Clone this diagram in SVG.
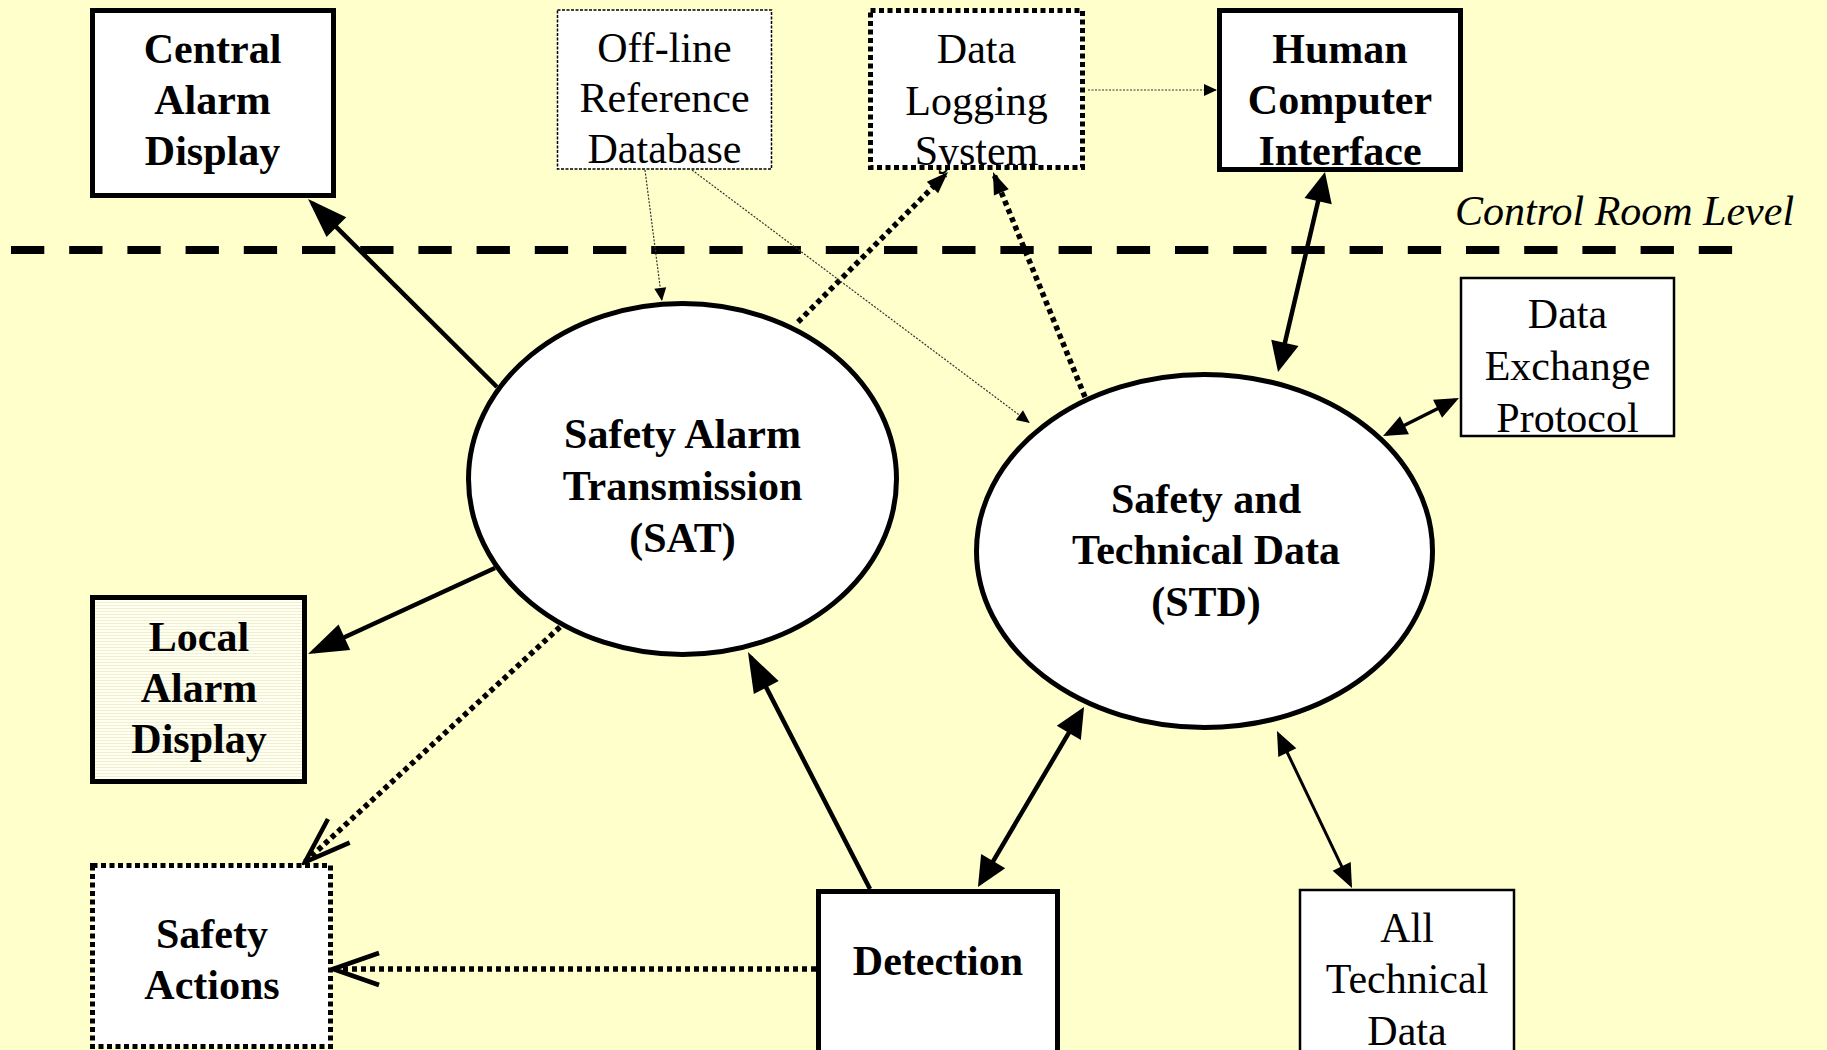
<svg xmlns="http://www.w3.org/2000/svg" width="1827" height="1050" viewBox="0 0 1827 1050">
<defs>
<style>
.bg{fill:#ffffcc}
.box{fill:#ffffff;stroke:#000;stroke-width:5}
.thin{fill:#ffffff;stroke:#000;stroke-width:2.5}
.dotbox{fill:#ffffff;stroke:#000;stroke-width:5;stroke-dasharray:5 3.5}
.finebox{fill:#ffffff;stroke:#000;stroke-width:1.5;stroke-dasharray:3 1.5}
.ell{fill:#ffffff;stroke:#000;stroke-width:5}
text{font-family:"Liberation Serif","Times New Roman",serif;font-size:42px;fill:#000;text-anchor:middle}
.b{font-weight:bold}
.it{font-style:italic;text-anchor:start}
.solid{stroke:#000;stroke-width:4.5;fill:none}
.mid{stroke:#000;stroke-width:3.5;fill:none}
.slim{stroke:#000;stroke-width:3;fill:none}
.dots{stroke:#000;stroke-width:5.5;stroke-dasharray:5 4;fill:none}
.fine{stroke:#333;stroke-width:1.2;stroke-dasharray:2 1.5;fill:none}
</style>
<marker id="big" viewBox="-36 -16 44 32" markerWidth="44" markerHeight="32" refX="0" refY="0" orient="auto-start-reverse" markerUnits="userSpaceOnUse">
<path d="M6,0 L-34,-14 L-34,14 Z" fill="#000"/>
</marker>
<marker id="med" viewBox="-30 -15 38 30" markerWidth="38" markerHeight="30" refX="0" refY="0" orient="auto-start-reverse" markerUnits="userSpaceOnUse">
<path d="M6,0 L-24,-14 L-24,14 Z" fill="#000"/>
</marker>
<marker id="sm" viewBox="-24 -12 30 24" markerWidth="30" markerHeight="24" refX="0" refY="0" orient="auto-start-reverse" markerUnits="userSpaceOnUse">
<path d="M4,0 L-20,-10 L-20,10 Z" fill="#000"/>
</marker>
<marker id="dot" viewBox="-22 -10 26 20" markerWidth="26" markerHeight="20" refX="0" refY="0" orient="auto" markerUnits="userSpaceOnUse">
<path d="M4,0 L-18,-8 L-18,8 Z" fill="#000"/>
</marker>
<marker id="tiny" viewBox="-14 -7 16 14" markerWidth="16" markerHeight="14" refX="0" refY="0" orient="auto" markerUnits="userSpaceOnUse">
<path d="M1,0 L-12,-6 L-12,6 Z" fill="#000"/>
</marker>
<marker id="open" viewBox="-52 -20 56 40" markerWidth="56" markerHeight="40" refX="0" refY="0" orient="auto" markerUnits="userSpaceOnUse">
<path d="M-46,-16 L0,0 L-46,16" fill="none" stroke="#000" stroke-width="4.5" stroke-linecap="butt"/>
</marker>
<pattern id="stripes" width="6" height="3" patternUnits="userSpaceOnUse">
<rect width="6" height="3" fill="#fffff2"/>
<rect y="2" width="6" height="1" fill="#f0f0d0"/>
</pattern>
</defs>
<rect class="bg" x="0" y="0" width="1827" height="1050"/>

<line x1="11" y1="250" x2="1734" y2="250" stroke="#000" stroke-width="8" stroke-dasharray="33.3 24.9"/>
<text class="it" x="1455" y="225">Control Room Level</text>

<g id="connectors">
<line class="solid" x1="497" y1="387" x2="312.3" y2="203.2" marker-end="url(#big)"/>
<line class="solid" x1="495" y1="568" x2="313.5" y2="651.5" marker-end="url(#big)"/>
<line class="solid" x1="870" y1="889" x2="750.7" y2="657.3" marker-end="url(#big)"/>
<line class="solid" x1="981" y1="881.8" x2="1081" y2="712.2" marker-start="url(#med)" marker-end="url(#med)"/>
<line class="slim" x1="1350.3" y1="884.4" x2="1278.7" y2="734.6" marker-start="url(#sm)" marker-end="url(#sm)"/>
<line class="mid" x1="1386.6" y1="434.2" x2="1455.4" y2="399.8" marker-start="url(#sm)" marker-end="url(#sm)"/>
<line class="solid" x1="1279.4" y1="366.2" x2="1323.6" y2="177.8" marker-start="url(#med)" marker-end="url(#med)"/>
<line class="dots" x1="798" y1="322" x2="945.2" y2="174.8" marker-end="url(#dot)"/>
<line class="dots" x1="1085" y1="397" x2="994.5" y2="175.7" marker-end="url(#dot)"/>
<line class="fine" x1="1088" y1="90" x2="1216" y2="90" marker-end="url(#tiny)"/>
<line class="fine" x1="645" y1="170" x2="661.8" y2="300" marker-end="url(#tiny)"/>
<line class="fine" x1="692" y1="170" x2="1029" y2="422.3" marker-end="url(#tiny)"/>
<line class="dots" x1="560" y1="627" x2="305" y2="862" marker-end="url(#open)"/>
<line class="dots" x1="816" y1="969" x2="333" y2="969" marker-end="url(#open)"/>
</g>

<g id="central-alarm-display">
<rect class="box" x="92.5" y="10.5" width="241" height="185"/>
<text class="b" x="212.5" y="63">Central</text>
<text class="b" x="212.5" y="114">Alarm</text>
<text class="b" x="212.5" y="165">Display</text>
</g>
<g id="offline-reference-database">
<rect class="finebox" x="557.5" y="10" width="214" height="159"/>
<text x="664.5" y="62">Off-line</text>
<text x="664.5" y="112">Reference</text>
<text x="664.5" y="163">Database</text>
</g>
<g id="data-logging-system">
<rect class="dotbox" x="870.5" y="10.5" width="212" height="157"/>
<text x="976.5" y="63">Data</text>
<text x="976.5" y="115">Logging</text>
<text x="976.5" y="165">System</text>
</g>
<g id="human-computer-interface">
<rect class="box" x="1219.5" y="10.5" width="241" height="159"/>
<text class="b" x="1340" y="63">Human</text>
<text class="b" x="1340" y="114">Computer</text>
<text class="b" x="1340" y="165">Interface</text>
</g>
<g id="data-exchange-protocol">
<rect class="thin" x="1461" y="278" width="213" height="158"/>
<text x="1567.5" y="328">Data</text>
<text x="1567.5" y="380">Exchange</text>
<text x="1567.5" y="432">Protocol</text>
</g>
<g id="sat">
<ellipse class="ell" cx="682.5" cy="479" rx="214" ry="175.5"/>
<text class="b" x="682.5" y="448">Safety Alarm</text>
<text class="b" x="682.5" y="500">Transmission</text>
<text class="b" x="682.5" y="552">(SAT)</text>
</g>
<g id="std">
<ellipse class="ell" cx="1204.5" cy="551" rx="228" ry="176.5"/>
<text class="b" x="1206" y="513">Safety and</text>
<text class="b" x="1206" y="564">Technical Data</text>
<text class="b" x="1206" y="616">(STD)</text>
</g>
<g id="local-alarm-display">
<rect x="92.5" y="597.5" width="212" height="184" fill="url(#stripes)" stroke="#000" stroke-width="5"/>
<text class="b" x="199" y="651">Local</text>
<text class="b" x="199" y="702">Alarm</text>
<text class="b" x="199" y="753">Display</text>
</g>
<g id="safety-actions">
<rect class="dotbox" x="92.5" y="865.5" width="238" height="181"/>
<text class="b" x="212" y="948">Safety</text>
<text class="b" x="212" y="999">Actions</text>
</g>
<g id="detection">
<rect class="box" x="818.5" y="891.5" width="239" height="170"/>
<text class="b" x="938" y="975">Detection</text>
</g>
<g id="all-technical-data">
<rect class="thin" x="1300" y="890" width="214" height="170"/>
<text x="1407" y="942">All</text>
<text x="1407" y="993">Technical</text>
<text x="1407" y="1045">Data</text>
</g>
</svg>
